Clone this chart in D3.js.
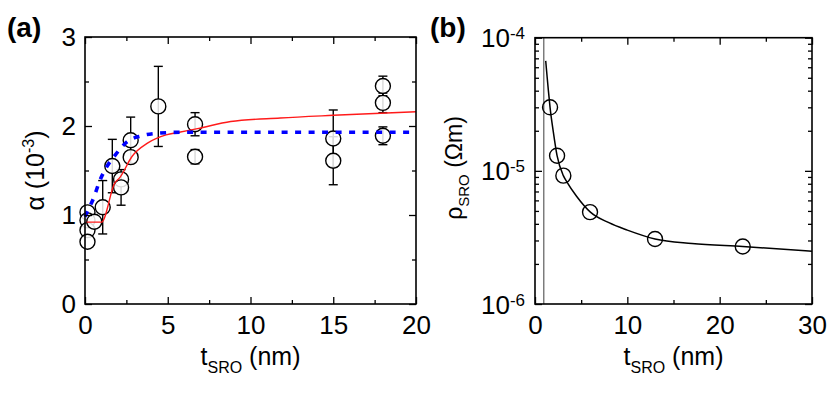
<!DOCTYPE html>
<html>
<head>
<meta charset="utf-8">
<script src="https://cdn.jsdelivr.net/npm/d3@7"></script>
<style>
  html, body { margin: 0; padding: 0; background: #fff; }
  svg text { font-family: "Liberation Sans", Arial, Helvetica, sans-serif; fill: #000; }
</style>
</head>
<body>
<svg id="chart" width="832" height="394"></svg>
<script>
// ---------- Panel (a) data ----------
const aThick = [0.15, 0.15, 0.15, 0.15, 0.56, 1.07, 1.65, 2.18, 2.18, 2.76, 2.76, 4.43, 6.65, 6.65, 15, 15, 18, 18, 18];
const aAlpha = [1.03, 0.94, 0.83, 0.70, 0.925, 1.087, 1.55, 1.40, 1.31, 1.84, 1.65, 2.22, 2.02, 1.655, 1.86, 1.61, 2.45, 2.26, 1.89];
const aErr   = [0, 0, 0, 0, 0, 0.30, 0.30, 0, 0.20, 0.26, 0, 0.45, 0.13, 0.08, 0.32, 0.27, 0.11, 0.11, 0.10];

const redT   = [0.1, 1.0, 1.8, 2.1, 2.85, 3.8, 4.9, 5.7, 6.8, 8.8, 11.8, 15, 20];
const redA   = [0.92, 0.92, 1.36, 1.42, 1.66, 1.81, 1.90, 1.93, 1.97, 2.05, 2.09, 2.12, 2.16];

const blueT  = [0.0, 0.2, 0.54, 0.86, 1.31, 1.81, 2.52, 3.42, 4.5, 6, 20];
const blueA  = [0.98, 1.06, 1.20, 1.37, 1.54, 1.67, 1.82, 1.89, 1.92, 1.93, 1.93];

const aXMajor = [0, 5, 10, 15, 20];
const aXMinor = [2.5, 7.5, 12.5, 17.5];
const aYMajor = [0, 1, 2, 3];
const aYMinor = [0.5, 1.5, 2.5];

// ---------- Panel (b) data ----------
const bThick = [1.63, 2.39, 3.07, 5.96, 13.0, 22.5];
const bRho   = [3.0e-5, 1.3e-5, 9.2e-6, 4.9e-6, 3.08e-6, 2.7e-6];

const fitT   = [1.16, 1.3, 1.45, 1.63, 1.98, 2.39, 3.07, 3.43, 4.5, 6, 8, 10, 13, 17, 22.5, 30];
const fitRho = [6.7e-5, 5.2e-5, 4.0e-5, 3.0e-5, 1.97e-5, 1.3e-5, 9.2e-6, 8.3e-6, 6.45e-6, 4.9e-6, 4.08e-6, 3.59e-6, 3.08e-6, 2.85e-6, 2.7e-6, 2.49e-6];

const deadT  = 0.95;   // vertical line position

const bXMajor = [0, 10, 20, 30];
const bXMinor = [5, 15, 25];
const bYMajor = [1e-6, 1e-5, 1e-4];
const bYMinor = [2,3,4,5,6,7,8,9].map(m => m*1e-6).concat([2,3,4,5,6,7,8,9].map(m => m*1e-5));

// ---------- Drawing ----------
const svg = d3.select("#chart");
const TICK_FONT = 26;
const MAJ = 7, MIN = 4;

function frameAndTicks(g, x, y, xMaj, xMin, yMaj, yMin, yLabels) {
  const [x0, x1] = x.range();
  const [y0, y1] = y.range();

  const styleAxis = sel => {
    sel.select(".domain").remove();
    sel.selectAll(".tick line").attr("stroke", "#000").attr("stroke-width", 1.3);
    sel.selectAll(".tick text").attr("font-size", TICK_FONT).attr("font-family", null);
  };

  g.append("g").attr("transform", `translate(0,${y0})`)
    .call(d3.axisBottom(x).tickValues(xMaj).tickSize(-MAJ).tickPadding(12).tickFormat(d3.format("d")))
    .call(styleAxis);
  g.append("g").attr("transform", `translate(0,${y0})`)
    .call(d3.axisBottom(x).tickValues(xMin).tickSize(-MIN).tickFormat(""))
    .call(styleAxis);
  g.append("g").attr("transform", `translate(0,${y1})`)
    .call(d3.axisTop(x).tickValues(xMaj).tickSize(-MAJ).tickFormat(""))
    .call(styleAxis);
  g.append("g").attr("transform", `translate(0,${y1})`)
    .call(d3.axisTop(x).tickValues(xMin).tickSize(-MIN).tickFormat(""))
    .call(styleAxis);

  const left = g.append("g").attr("transform", `translate(${x0},0)`)
    .call(d3.axisLeft(y).tickValues(yMaj).tickSize(-MAJ).tickPadding(9).tickFormat(yLabels ? "" : d3.format("d")))
    .call(styleAxis);
  g.append("g").attr("transform", `translate(${x0},0)`)
    .call(d3.axisLeft(y).tickValues(yMin).tickSize(-MIN).tickFormat(""))
    .call(styleAxis);
  g.append("g").attr("transform", `translate(${x1},0)`)
    .call(d3.axisRight(y).tickValues(yMaj).tickSize(-MAJ).tickFormat(""))
    .call(styleAxis);
  g.append("g").attr("transform", `translate(${x1},0)`)
    .call(d3.axisRight(y).tickValues(yMin).tickSize(-MIN).tickFormat(""))
    .call(styleAxis);

  if (yLabels) {
    left.selectAll(".tick").each(function(d) {
      const t = d3.select(this).select("text");
      t.text(null).attr("dy", "0.35em").attr("x", -10);
      t.append("tspan").text("10");
      t.append("tspan").attr("font-size", 17).attr("dy", -8).text(yLabels(d));
    });
  }

  g.append("rect")
    .attr("x", x0).attr("y", y1)
    .attr("width", x1 - x0).attr("height", y0 - y1)
    .attr("fill", "none").attr("stroke", "#000").attr("stroke-width", 1.6);
}

// center a text element on c (in its own, possibly rotated, coordinates) using its laid-out box
function centerText(t, c) {
  t.attr("text-anchor", "start").attr("x", 0);
  const b = t.node().getBBox();
  t.attr("x", c - (b.x + b.width / 2));
}

// ===== Panel (a) =====
const xa = d3.scaleLinear().domain([0, 20]).range([85, 416]);
const ya = d3.scaleLinear().domain([0, 3]).range([304, 37]);
const ga = svg.append("g");

const aPts = aThick.map((t, i) => ({t, v: aAlpha[i], e: aErr[i]}));

const eb = ga.append("g").attr("stroke", "#000").attr("stroke-width", 1.4);
aPts.filter(p => p.e > 0).forEach(p => {
  const cx = xa(p.t);
  eb.append("line").attr("x1", cx).attr("x2", cx).attr("y1", ya(p.v - p.e)).attr("y2", ya(p.v + p.e));
  eb.append("line").attr("x1", cx - 4.5).attr("x2", cx + 4.5).attr("y1", ya(p.v - p.e)).attr("y2", ya(p.v - p.e));
  eb.append("line").attr("x1", cx - 4.5).attr("x2", cx + 4.5).attr("y1", ya(p.v + p.e)).attr("y2", ya(p.v + p.e));
});

ga.append("g").selectAll("circle").data(aPts).join("circle")
  .attr("cx", p => xa(p.t)).attr("cy", p => ya(p.v)).attr("r", 7.5)
  .attr("fill", "#fff").attr("fill-opacity", 0.85).attr("stroke", "#000").attr("stroke-width", 1.4);

const lineA = d3.line().x(d => xa(d[0])).y(d => ya(d[1])).curve(d3.curveMonotoneX);
ga.append("path").datum(redT.map((t, i) => [t, redA[i]]))
  .attr("d", lineA).attr("fill", "none").attr("stroke", "#ff1a1a").attr("stroke-width", 1.4);
ga.append("path").datum(blueT.map((t, i) => [t, blueA[i]]))
  .attr("d", lineA).attr("fill", "none").attr("stroke", "#0000ff").attr("stroke-width", 3.6)
  .attr("stroke-dasharray", "6,7.5");

frameAndTicks(ga, xa, ya, aXMajor, aXMinor, aYMajor, aYMinor, null);

svg.append("text").attr("x", 7).attr("y", 37).attr("font-size", 28).attr("font-weight", "bold").text("(a)");
const xtA = svg.append("text").attr("y", 365).attr("font-size", 25);
xtA.append("tspan").text("t");
xtA.append("tspan").attr("font-size", 16).attr("dy", 8).text("SRO");
xtA.append("tspan").attr("dy", -8).text(" (nm)");
centerText(xtA, 250.5);

const ytA = svg.append("text").attr("transform", "rotate(-90)").attr("y", 44).attr("font-size", 25);
ytA.append("tspan").text("α");
ytA.append("tspan").text(" (10");
ytA.append("tspan").attr("font-size", 16).attr("dy", -10).text("-3");
ytA.append("tspan").attr("dy", 10).text(")");
centerText(ytA, -170.5);

// ===== Panel (b) =====
const xb = d3.scaleLinear().domain([0, 30]).range([535, 812]);
const yb = d3.scaleLog().domain([1e-6, 1e-4]).range([304, 37.7]);
const gb = svg.append("g");

gb.append("line").attr("x1", xb(deadT)).attr("x2", xb(deadT)).attr("y1", yb(1e-6)).attr("y2", yb(1e-4))
  .attr("stroke", "#6a6a6a").attr("stroke-width", 1.3);

gb.append("g").selectAll("circle").data(bThick.map((t, i) => [t, bRho[i]])).join("circle")
  .attr("cx", d => xb(d[0])).attr("cy", d => yb(d[1])).attr("r", 7.5)
  .attr("fill", "none").attr("stroke", "#000").attr("stroke-width", 1.4);

const lineB = d3.line().x(d => xb(d[0])).y(d => yb(d[1])).curve(d3.curveMonotoneX);
gb.append("path").datum(fitT.map((t, i) => [t, fitRho[i]]))
  .attr("d", lineB).attr("fill", "none").attr("stroke", "#000").attr("stroke-width", 1.5);

frameAndTicks(gb, xb, yb, bXMajor, bXMinor, bYMajor, bYMinor, d => String(Math.round(Math.log10(d))));

svg.append("text").attr("x", 430).attr("y", 37).attr("font-size", 28).attr("font-weight", "bold").text("(b)");
const xtB = svg.append("text").attr("y", 365).attr("font-size", 25);
xtB.append("tspan").text("t");
xtB.append("tspan").attr("font-size", 16).attr("dy", 8).text("SRO");
xtB.append("tspan").attr("dy", -8).text(" (nm)");
centerText(xtB, 673.5);

const ytB = svg.append("text").attr("transform", "rotate(-90)").attr("y", 462).attr("font-size", 23);
ytB.append("tspan").text("ρ");
ytB.append("tspan").attr("font-size", 15).attr("dy", 7).text("SRO");
ytB.append("tspan").attr("dy", -7).text(" (Ωm)");
centerText(ytB, -168);
</script>
</body>
</html>
